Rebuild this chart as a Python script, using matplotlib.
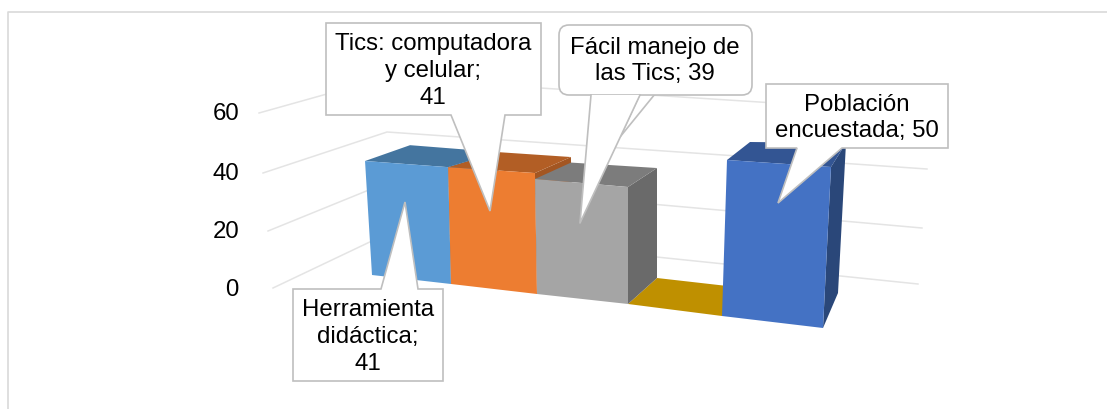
import matplotlib
matplotlib.use("Agg")
import matplotlib.pyplot as plt
from matplotlib.patches import Polygon, FancyBboxPatch

plt.rcParams["font.family"] = ["Liberation Sans", "DejaVu Sans"]

# chart data
categories = ["Herramienta didáctica", "Tics: computadora y celular", "Fácil manejo de las Tics", "", "Población encuestada"]
values = [41, 41, 39, 0, 50]
y_ticks = [0, 20, 40, 60]
label_lines = ["Herramienta\ndidáctica;\n{}", "Tics: computadora\ny celular;\n{}", "Fácil manejo de\nlas Tics; {}", None, "Población\nencuestada; {}"]

# colours (front, top, side)
front_cols = ["#5B9BD5", "#ED7D31", "#A5A5A5", "#BF9000", "#4472C4"]
top_cols = ["#44759F", "#B25E25", "#7C7C7C", "#BF9000", "#335593"]
side_cols = ["#3E6A92", "#A35622", "#6A6A6A", "#BF9000", "#2A4779"]

# projection of the tilted 3d box, one entry per edge between the bars (pixels)
edge_x = [372, 451, 537, 628, 722, 823]
edge_y = [275, 284, 294, 304, 316, 328]
edge_scale = [2.78, 2.85, 2.95, 3.0, 3.12, 3.22]
edge_lean = [-0.17, -0.07, -0.05, 0, 0.1, 0.16]
depth_x = [45, 50, 36, 29, 23, 15]
depth_y = [-22, -22, -23, -26, -28, -35]
depth_k = [0.15, 0.17, 0.17, 0.18, 0.2, 0.22]


def front(i, v):
    return (edge_x[i] + edge_lean[i] * v, edge_y[i] - edge_scale[i] * v)


def back(i, v):
    x, y = front(i, v)
    return (x + depth_x[i], y + depth_y[i] + depth_k[i] * v)


# gridlines: left end, back corner, right end for each tick
grid_left = {0: (273, 288), 20: (268, 231), 40: (263, 173), 60: (259, 113)}
grid_corner = {0: (395, 230), 20: (391, 181), 40: (387, 132), 60: (384, 78)}
grid_right = {0: (918, 284), 20: (922, 228), 40: (927, 169), 60: (931, 113)}

fig = plt.figure(figsize=(11.07, 4.09), dpi=100)
ax = fig.add_axes([0, 0, 1, 1])
ax.set_xlim(0, 1107)
ax.set_ylim(409, 0)
ax.axis("off")

# outer frame, only top and left show
ax.plot([8, 8, 1107], [409, 12, 12], color="#D9D9D9", lw=1.2, zorder=1)

for t in y_ticks:
    pts = [grid_left[t], grid_corner[t], grid_right[t]]
    ax.plot([p[0] for p in pts], [p[1] for p in pts], color="#E4E4E4", lw=1.1, zorder=2)
    ax.text(239, grid_left[t][1] + 1.5, str(t), ha="right", va="center", fontsize=17.3, color="black", zorder=3)

# sides, then tops from right to left, then all the fronts over them
for i in range(len(values) - 1, -1, -1):
    v = values[i]
    if v == 0:
        floor = [front(i, 0), front(i + 1, 0), back(i + 1, 0), back(i, 0)]
        ax.add_patch(Polygon(floor, closed=True, fc=top_cols[i], ec="none", zorder=4))
        continue
    side = [front(i + 1, 0), front(i + 1, v), back(i + 1, v), back(i + 1, 0)]
    top = [front(i, v), front(i + 1, v), back(i + 1, v), back(i, v)]
    ax.add_patch(Polygon(side, closed=True, fc=side_cols[i], ec="none", zorder=5))
    ax.add_patch(Polygon(top, closed=True, fc=top_cols[i], ec="none", zorder=6))

for i, v in enumerate(values):
    if v == 0:
        continue
    face = [front(i, 0), front(i + 1, 0), front(i + 1, v), front(i, v)]
    ax.add_patch(Polygon(face, closed=True, fc=front_cols[i], ec="none", zorder=7))

# callouts
edge_col = "#BFBFBF"


def callout(x0, y0, x1, y1, base_a, base_b, tip, side="bottom"):
    if side == "bottom":
        pts = [(x0, y0), (x1, y0), (x1, y1), (base_b, y1), tip, (base_a, y1), (x0, y1)]
    else:
        pts = [(x0, y0), (base_a, y0), tip, (base_b, y0), (x1, y0), (x1, y1), (x0, y1)]
    ax.add_patch(Polygon(pts, closed=True, fc="white", ec=edge_col, lw=1.2, zorder=20))


callout(293, 289, 443, 381, 381, 418, (405, 202), side="top")
callout(326, 23, 541, 115, 451, 505, (490, 211))
callout(766, 84, 948, 148, 797, 842, (778, 203))

# the rounded one has an extra sliver next to its pointer
ax.add_patch(Polygon([(640, 94), (655, 94), (620, 137)], closed=True, fc="white", ec=edge_col, lw=1.2, zorder=20))
ax.add_patch(FancyBboxPatch((566, 32), 179, 56, boxstyle="round,pad=7,rounding_size=10", fc="white", ec=edge_col, lw=1.2, zorder=20))
ax.add_patch(Polygon([(591, 95), (640, 95), (580, 223)], closed=True, fc="white", ec="none", zorder=21))
ax.plot([591, 580, 640], [95, 223, 95], color=edge_col, lw=1.2, zorder=21)

label_pos = [(368, 337), (433, 71), (655, 61), None, (857, 118)]
for i, txt in enumerate(label_lines):
    if txt is None:
        continue
    ax.text(label_pos[i][0], label_pos[i][1], txt.format(values[i]), ha="center", va="center",
            fontsize=17.3, color="black", linespacing=1.28, zorder=25)

fig.savefig("out.png", dpi=100)
